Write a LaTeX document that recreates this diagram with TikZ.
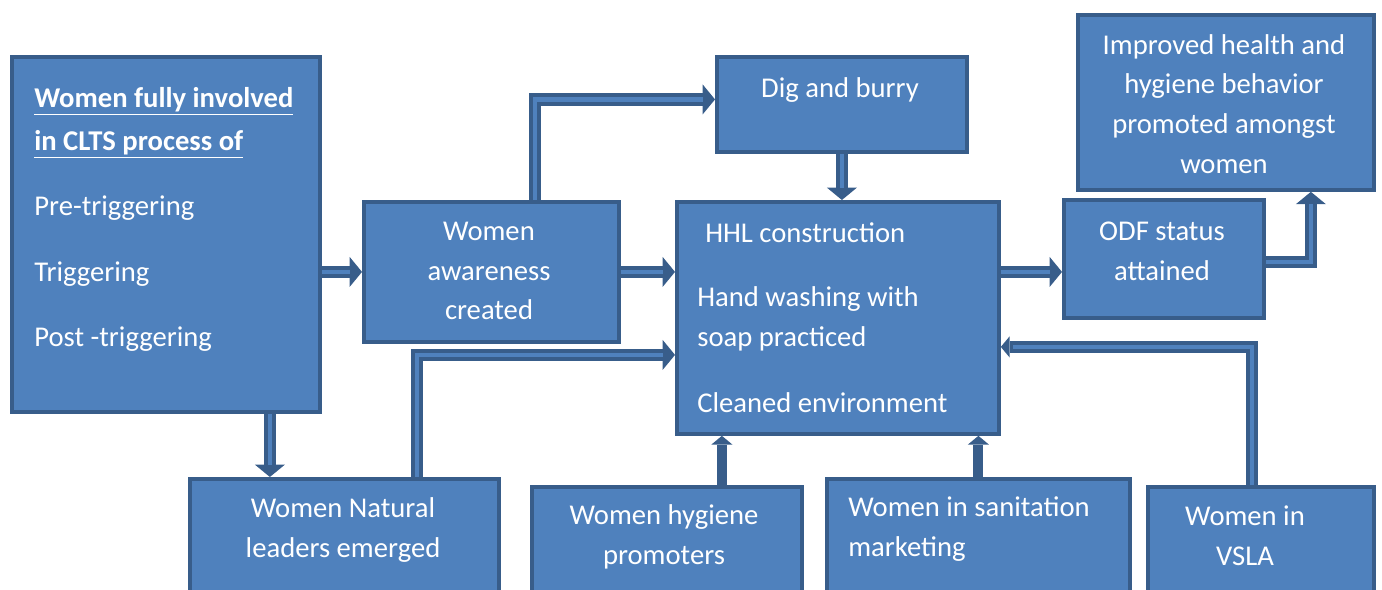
\documentclass[tikz,border=0pt]{standalone}
\usepackage{fontspec}
\setmainfont{Carlito}
\usetikzlibrary{positioning, arrows.meta}
\definecolor{boxblue}{HTML}{4F81BD}
\definecolor{edgeblue}{HTML}{385D8A}
\newcommand{\dblarrow}[2][]{\draw[hollow, #1] #2; \draw[hollowin] #2;}
\tikzset{
  box/.style={draw=edgeblue, fill=boxblue, line width=2.2pt, rectangle,
              anchor=north west, inner sep=0pt},
  txt/.style={text=white, font=\fontsize{16.3}{22.7}\selectfont, align=center,
              inner sep=0pt},
  hollow/.style={draw=edgeblue, line width=7pt, line join=miter,
                 -{Triangle[length=7pt, width=17pt, line width=0pt]}},
  hollowin/.style={draw=boxblue, line width=2.5pt, line join=miter, shorten >=7pt},
  smallhead/.style={-{Triangle[length=5pt, width=12pt, line width=0pt]}},
  solidarr/.style={draw=edgeblue, line width=5.7pt,
                   -{Triangle[length=5pt, width=12pt, line width=0pt]}},
}

\begin{document}
\begin{tikzpicture}[x=0.02cm, y=-0.02cm]
  \useasboundingbox (0,0) rectangle (1382,590);
  \clip (0,0) rectangle (1382,590);
  % boxes
  \node[box, minimum width=6.16cm, minimum height=7.10cm] (clts) at (10,55) {};
  \node[box, minimum width=5.10cm, minimum height=2.80cm] (aware) at (362,200) {};
  \node[box, minimum width=5.00cm, minimum height=1.90cm] (dig) at (715,55) {};
  \node[box, minimum width=6.44cm, minimum height=4.64cm] (hhl) at (675,200) {};
  \node[box, minimum width=4.00cm, minimum height=2.36cm] (odf) at (1062,198) {};
  \node[box, minimum width=5.92cm, minimum height=3.50cm] (improved) at (1076,13) {};
  \node[box, minimum width=6.18cm, minimum height=2.80cm] (natural) at (188,477) {};
  \node[box, minimum width=5.40cm, minimum height=2.80cm] (hygiene) at (530,485) {};
  \node[box, minimum width=6.06cm, minimum height=2.80cm] (sanit) at (825,477) {};
  \node[box, minimum width=4.52cm, minimum height=2.80cm] (vsla) at (1146,485) {};

  % texts
  \node[txt, align=left, anchor=north west] (cltstxt) at (34,87)
    {\underline{\textbf{Women fully involved}}\\[1.8pt]
     \underline{\textbf{in CLTS process of}}\\[14.5pt]
     Pre-triggering\\[14.5pt] Triggering\\[14.5pt] Post -triggering};
  \node[txt] (awaretxt) at (489,271) {Women\\ awareness\\ created};
  \node[txt] (digtxt) at (840,90) {Dig and burry};
  \node[txt, align=left, anchor=north west] (hhltxt) at (697,222)
    {\hspace{4.5pt}HHL construction\\[14pt]
     Hand washing with\\ soap practiced\\[15pt] Cleaned environment};
  \node[txt] (odftxt) at (1162,251) {ODF status\\ attained};
  \node[txt] (improvedtxt) at (1224,104)
    {Improved health and\\ hygiene behavior\\ promoted amongst\\ women};
  \node[txt] (naturaltxt) at (343,530) {Women Natural\\ leaders emerged};
  \node[txt] (hygienetxt) at (664,537) {Women hygiene\\ promoters};
  \node[txt, align=left, anchor=west] (sanittxt) at (848,529)
    {Women in sanitation\\ marketing};
  \node[txt] (vslatxt) at (1245,536) {Women in\\ VSLA};

  % connectors
  \dblarrow{(clts.east |- aware.west) -- (aware.west)}
  \dblarrow{([xshift=0.87cm]aware.north) |- ([yshift=0.1cm]dig.west)}
  \dblarrow{(dig.south) -- (dig.south |- hhl.north)}
  \dblarrow{(aware.east) -- (aware.east -| hhl.west)}
  \dblarrow{([yshift=-0.26cm]odf.west -| hhl.east) -- ([yshift=-0.26cm]odf.west)}
  \dblarrow{([yshift=-0.06cm]odf.east) -| ([xshift=1.7cm]improved.south)}
  \dblarrow{([xshift=2.08cm]clts.south) -- ([xshift=2.08cm]clts.south |- natural.north)}
  \dblarrow{([xshift=1.45cm]natural.north) |- ([yshift=-0.74cm]hhl.west)}
  \dblarrow[smallhead]{([xshift=-0.18cm]vsla.north) |- ([yshift=-0.58cm]hhl.east)}
  \draw[solidarr] ([xshift=1.1cm]hygiene.north) -- ([xshift=1.1cm]hygiene.north |- hhl.south);
  \draw[solidarr] (sanit.north) -- (sanit.north |- hhl.south);
\end{tikzpicture}
\end{document}
